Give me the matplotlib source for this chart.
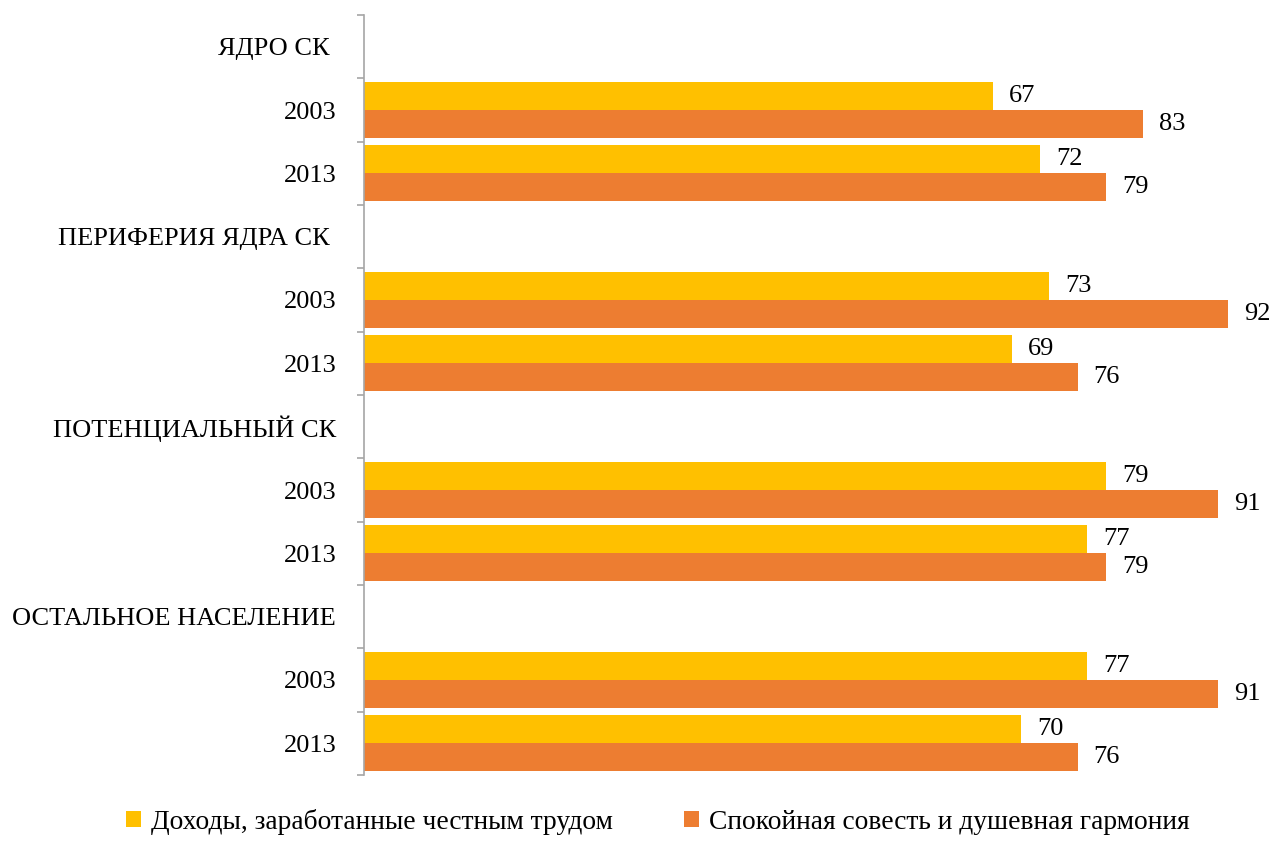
import numpy as np
import matplotlib
matplotlib.use("Agg")
from matplotlib import pyplot as plt
from matplotlib.patches import Patch

plt.rcParams['font.family'] = ['Liberation Serif', 'DejaVu Serif']

# rows from top to bottom; group headers have no bars
rows = ['ЯДРО СК ', '2003', '2013',
        'ПЕРИФЕРИЯ ЯДРА СК ', '2003', '2013',
        'ПОТЕНЦИАЛЬНЫЙ СК', '2003', '2013',
        'ОСТАЛЬНОЕ НАСЕЛЕНИЕ', '2003', '2013']
income = [None, 67, 72, None, 73, 69, None, 79, 77, None, 77, 70]
conscience = [None, 83, 79, None, 92, 76, None, 91, 79, None, 91, 76]

series_names = ['Доходы, заработанные честным трудом',
                'Спокойная совесть и душевная гармония']
colors = ['#FFC000', '#ED7D31']

fig = plt.figure(figsize=(12.72, 8.41), dpi=100)
ax = fig.add_axes([364 / 1272, 1 - 775 / 841, 1 - 364 / 1272, 760 / 841])

h = 0.442
pos = np.arange(len(rows))
for vals, off, col in [(income, -h / 2, colors[0]), (conscience, h / 2, colors[1])]:
    for y, v in zip(pos, vals):
        if v is None:
            continue
        ax.barh(y + off, v, height=h, color=col, edgecolor='none')
        ax.annotate(str(v), (v, y + off), xytext=(11.5, 0), textcoords='offset points',
                    va='center', ha='left', fontsize=19)

ax.set_ylim(len(rows) - 0.5, -0.5)
ax.set_xlim(0, (1272 - 364) / 9.39)

ax.set_yticks(pos)
ax.set_yticklabels(rows, fontsize=19)
ax.set_yticks(np.arange(len(rows) + 1) - 0.5, minor=True)
ax.tick_params(axis='y', which='major', length=0, pad=20)
ax.tick_params(axis='y', which='minor', length=5, color='#a6a6a6', width=1.2)
ax.set_xticks([])
for s in ['top', 'right', 'bottom']:
    ax.spines[s].set_visible(False)
ax.spines['left'].set_color('#a6a6a6')
ax.spines['left'].set_linewidth(1.2)

handles = [Patch(facecolor=c, edgecolor='none') for c in colors]
fig.legend(handles, series_names, loc='lower center', bbox_to_anchor=(0.517, -0.022),
           ncol=2, frameon=False, fontsize=19.8, handlelength=0.55, handleheight=0.55,
           handletextpad=0.35, columnspacing=2.6)

fig.savefig('out.png', dpi=100)
